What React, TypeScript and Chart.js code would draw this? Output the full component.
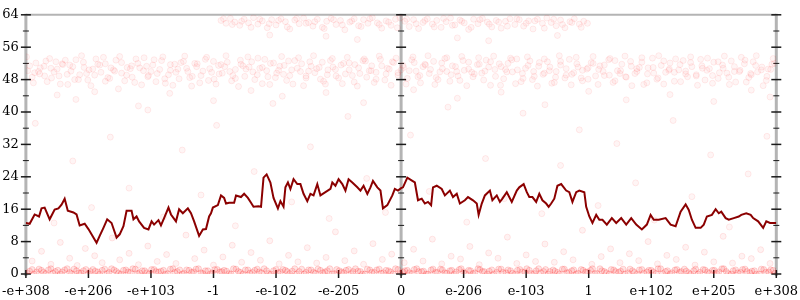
import React, { useEffect, useRef } from 'react';
import { Chart, registerables } from 'chart.js';

Chart.register(...registerables);

const xTickLabels = ['-e+308', '-e+206', '-e+103', '-1', '-e-102', '-e-205', '0', 'e-206', 'e-103', '1', 'e+102', 'e+205', 'e+308'];
const yMajorStep = 8;
const yMinorStep = 4;

const linePoints: number[][] = [
  [-6.00,12.6],[-5.94,12.4],[-5.86,14.7],[-5.79,14.2],[-5.75,16.2],[-5.70,16.4],[-5.62,13.5],[-5.54,15.9],[-5.48,16.2],[-5.43,17.1],
  [-5.38,18.6],[-5.33,15.6],[-5.24,15.2],[-5.19,14.7],[-5.14,12.0],[-5.06,12.4],[-5.00,11.1],[-4.92,9.0],[-4.87,7.7],[-4.82,9.4],
  [-4.76,11.4],[-4.70,13.5],[-4.63,12.6],[-4.55,9.0],[-4.50,9.8],[-4.44,11.8],[-4.39,15.6],[-4.31,15.6],[-4.28,13.5],[-4.23,14.2],
  [-4.19,13.0],[-4.11,11.4],[-4.04,11.0],[-3.99,13.0],[-3.95,12.2],[-3.88,13.3],[-3.84,12.0],[-3.79,13.8],[-3.72,16.4],[-3.68,14.7],
  [-3.60,13.0],[-3.55,16.0],[-3.49,15.0],[-3.41,16.2],[-3.36,15.0],[-3.31,13.0],[-3.23,9.4],[-3.17,11.0],[-3.12,11.1],[-3.07,14.2],
  [-3.04,15.0],[-3.01,16.4],[-2.93,17.0],[-2.88,19.4],[-2.83,18.8],[-2.80,17.4],[-2.75,17.6],[-2.67,17.6],[-2.64,19.4],[-2.56,19.0],
  [-2.51,19.8],[-2.45,18.8],[-2.40,17.6],[-2.36,16.6],[-2.28,16.7],[-2.24,16.6],[-2.20,23.8],[-2.15,24.6],[-2.09,22.6],[-2.04,18.8],
  [-1.97,16.2],[-1.93,18.0],[-1.88,16.6],[-1.85,21.4],[-1.81,22.6],[-1.77,21.0],[-1.72,23.4],[-1.66,22.2],[-1.61,22.2],[-1.56,19.8],
  [-1.50,18.0],[-1.45,19.8],[-1.40,19.4],[-1.34,22.2],[-1.29,19.4],[-1.21,20.2],[-1.13,21.0],[-1.10,22.6],[-1.05,21.8],[-1.00,23.4],
  [-0.94,22.2],[-0.89,20.6],[-0.84,23.4],[-0.78,22.6],[-0.70,21.4],[-0.65,20.6],[-0.60,21.8],[-0.54,19.8],[-0.49,21.4],[-0.45,23.0],
  [-0.38,21.4],[-0.33,20.6],[-0.29,16.2],[-0.22,17.0],[-0.14,19.4],[-0.10,21.0],[-0.05,20.6],[0.00,21.2],[0.03,21.4],[0.10,23.8],
  [0.18,23.0],[0.22,22.6],[0.27,18.2],[0.33,18.6],[0.38,17.4],[0.43,17.8],[0.48,17.0],[0.51,21.4],[0.57,21.8],[0.65,21.0],
  [0.70,19.4],[0.78,20.6],[0.83,19.0],[0.89,19.8],[0.94,17.4],[1.02,18.2],[1.07,19.0],[1.15,18.2],[1.21,17.4],[1.24,14.6],
  [1.29,17.4],[1.34,19.4],[1.42,20.6],[1.46,18.2],[1.53,19.4],[1.58,17.8],[1.62,18.6],[1.69,20.2],[1.77,17.8],[1.85,20.6],
  [1.89,21.4],[1.96,22.2],[2.01,20.2],[2.05,19.0],[2.10,19.0],[2.16,17.8],[2.21,19.8],[2.26,18.2],[2.32,17.4],[2.36,16.6],
  [2.40,17.4],[2.45,18.6],[2.50,21.8],[2.56,22.2],[2.64,20.6],[2.69,20.2],[2.74,17.8],[2.80,20.2],[2.85,20.6],[2.93,20.2],
  [2.96,16.6],[3.01,14.2],[3.06,12.6],[3.12,14.6],[3.17,13.4],[3.22,13.4],[3.29,12.2],[3.37,13.8],[3.44,12.6],[3.52,13.8],
  [3.60,12.2],[3.68,13.8],[3.76,12.2],[3.85,11.0],[3.93,12.2],[3.99,14.6],[4.04,13.4],[4.12,13.4],[4.23,13.8],[4.31,12.2],
  [4.39,11.8],[4.47,15.4],[4.55,17.2],[4.60,15.8],[4.65,13.4],[4.71,11.4],[4.79,11.4],[4.84,12.2],[4.89,14.2],[4.97,14.6],
  [5.03,16.0],[5.08,15.0],[5.12,15.4],[5.19,13.8],[5.24,13.4],[5.32,13.8],[5.40,14.2],[5.44,14.6],[5.52,15.0],[5.59,14.6],
  [5.63,13.8],[5.71,13.0],[5.79,11.4],[5.84,13.0],[5.90,12.6],[6.00,12.6]
];

const band50Points: number[][] = [
  [-5.97,50.2],[-5.9,48.6],[-5.84,52.1],[-5.78,49.4],[-5.71,51.3],[-5.66,47.5],[-5.6,50.8],[-5.52,52.4],[-5.47,48.9],[-5.41,51.7],
  [-5.33,46.8],[-5.28,50.1],[-5.2,52.9],[-5.14,49.2],[-5.07,51.0],[-5.01,47.9],[-4.93,50.6],[-4.88,53.1],[-4.8,49.8],[-4.73,51.9],
  [-4.66,48.3],[-4.6,50.4],[-4.52,45.7],[-4.47,52.2],[-4.39,49.1],[-4.31,51.4],[-4.26,47.3],[-4.18,50.9],[-4.11,53.4],[-4.05,48.7],
  [-3.97,51.6],[-3.9,49.5],[-3.83,52.7],[-3.77,47.1],[-3.69,50.3],[-3.62,51.8],[-3.55,48.2],[-3.48,52.5],[-3.41,50.0],[-3.35,46.4],
  [-3.27,51.2],[-3.2,49.0],[-3.13,53.0],[-3.06,50.7],[-2.99,48.1],[-2.92,51.5],[-2.86,49.6],[-2.78,52.3],[-2.71,47.7],[-2.65,50.5],
  [-2.57,52.8],[-2.5,48.8],[-2.43,51.1],[-2.37,49.9],[-2.29,53.3],[-2.22,47.0],[-2.15,50.2],[-2.09,52.0],[-2.01,48.5],[-1.94,51.3],
  [-1.88,49.3],[-1.8,52.6],[-1.73,46.9],[-1.66,50.8],[-1.59,51.9],[-1.52,48.4],[-1.46,52.4],[-1.38,49.7],[-1.31,51.0],[-1.24,47.6],
  [-1.17,50.4],[-1.1,53.2],[-1.04,48.9],[-0.96,51.6],[-0.89,49.4],[-0.83,52.1],[-0.75,47.4],[-0.68,50.9],[-0.61,52.7],[-0.55,48.6],
  [-0.47,51.4],[-0.4,49.8],[-0.33,53.0],[-0.26,47.9],[-0.19,50.6],[-0.12,52.2],[-0.05,49.1],[0.03,51.5],[0.1,48.3],[0.17,52.9],
  [0.24,50.1],[0.31,47.2],[0.38,51.8],[0.45,49.5],[0.52,52.5],[0.59,48.0],[0.66,50.7],[0.73,53.4],[0.8,49.2],[0.87,51.2],
  [0.94,47.8],[1.01,50.3],[1.08,52.3],[1.15,48.7],[1.22,51.7],[1.29,49.6],[1.36,52.8],[1.43,46.6],[1.5,50.5],[1.57,51.9],
  [1.64,48.2],[1.71,52.0],[1.78,49.9],[1.85,53.1],[1.92,47.5],[1.99,50.8],[2.06,52.6],[2.13,48.8],[2.2,51.3],[2.27,49.3],
  [2.34,52.4],[2.41,47.1],[2.48,50.0],[2.55,51.6],[2.62,48.4],[2.69,53.0],[2.76,49.7],[2.83,51.1],[2.9,47.7],[2.97,50.6],
  [3.04,52.2],[3.11,48.9],[3.18,51.4],[3.25,49.0],[3.32,52.9],[3.39,47.3],[3.46,50.2],[3.53,51.8],[3.6,48.6],[3.67,52.5],
  [3.74,49.5],[3.81,51.0],[3.88,46.8],[3.95,50.9],[4.02,53.3],[4.09,48.1],[4.16,51.5],[4.23,49.8],[4.3,52.1],[4.37,47.6],
  [4.44,50.4],[4.51,52.7],[4.58,48.7],[4.65,51.2],[4.72,49.2],[4.79,53.0],[4.86,47.9],[4.93,50.7],[5.0,52.3],[5.07,48.3],
  [5.14,51.6],[5.21,49.6],[5.28,52.6],[5.35,47.4],[5.42,50.3],[5.49,51.9],[5.56,48.5],[5.63,52.4],[5.7,49.9],[5.77,51.1],
  [5.84,47.8],[5.91,50.5],[5.97,52.0],
  [-5.5,44.2],[-5.2,43.1],[-4.9,45.0],[-4.2,41.5],[-3.7,44.6],[-3.0,42.8],[-2.4,45.3],[-1.9,43.9],[-1.2,44.8],[-0.6,42.3],
  [0.2,45.5],[0.9,43.4],[1.6,44.9],[2.3,41.8],[3.0,45.1],[3.6,43.0],[4.3,44.3],[5.0,42.6],[5.6,45.4],[5.9,43.7]
];

const band50PointsB: number[][] = [
  [-5.94,51.4],[-5.86,49.7],[-5.77,50.9],[-5.68,52.6],[-5.59,48.4],[-5.5,50.6],[-5.42,51.9],[-5.34,49.3],[-5.25,51.2],[-5.16,48.0],
  [-5.08,52.3],[-4.99,50.4],[-4.9,49.1],[-4.82,51.6],[-4.73,47.6],[-4.64,50.9],[-4.56,52.8],[-4.47,49.6],[-4.38,51.0],[-4.3,48.6],
  [-4.21,52.0],[-4.12,50.2],[-4.04,49.0],[-3.95,52.9],[-3.86,50.5],[-3.78,48.2],[-3.69,51.7],[-3.6,49.8],[-3.52,52.2],[-3.43,50.8],
  [-3.34,48.8],[-3.26,51.9],[-3.17,50.1],[-3.08,47.8],[-3.0,52.5],[-2.91,49.4],[-2.82,51.2],[-2.74,50.0],[-2.65,48.3],[-2.56,51.8],
  [-2.48,50.6],[-2.39,52.4],[-2.3,49.2],[-2.22,51.0],[-2.13,48.7],[-2.04,52.1],[-1.96,50.3],[-1.87,51.5],[-1.78,49.0],[-1.7,52.7],
  [-1.61,50.0],[-1.52,48.9],[-1.44,51.3],[-1.35,50.7],[-1.26,52.3],[-1.18,49.2],[-1.09,51.1],[-1.0,48.4],[-0.92,52.0],[-0.83,50.4],
  [-0.74,51.7],[-0.66,49.5],[-0.57,52.6],[-0.48,50.2],[-0.4,48.1],[-0.31,51.4],[-0.22,50.8],[-0.14,52.4],[-0.05,49.7],[0.04,51.0],
  [0.13,50.2],[0.21,52.2],[0.3,49.0],[0.39,51.6],[0.47,50.5],[0.56,48.5],[0.65,52.1],[0.73,50.0],[0.82,51.4],[0.91,48.9],
  [0.99,52.7],[1.08,50.6],[1.17,49.4],[1.25,51.8],[1.34,50.1],[1.43,52.4],[1.51,48.8],[1.6,51.2],[1.69,49.9],[1.77,52.9],
  [1.86,50.4],[1.95,48.3],[2.03,51.5],[2.12,50.0],[2.21,52.2],[2.29,49.6],[2.38,51.1],[2.47,48.6],[2.55,52.5],[2.64,50.7],
  [2.73,49.3],[2.81,51.9],[2.9,50.3],[2.99,48.1],[3.07,52.0],[3.16,50.5],[3.25,51.6],[3.33,49.1],[3.42,52.7],[3.51,50.2],
  [3.59,48.7],[3.68,51.3],[3.77,50.0],[3.85,52.3],[3.94,49.4],[4.03,51.0],[4.11,48.4],[4.2,52.6],[4.29,50.6],[4.37,49.8],
  [4.46,51.7],[4.55,50.1],[4.63,52.2],[4.72,48.9],[4.81,51.4],[4.89,50.3],[4.98,49.0],[5.07,52.4],[5.15,50.8],[5.24,48.6],
  [5.33,51.2],[5.41,50.0],[5.5,52.8],[5.59,49.5],[5.67,51.5],[5.76,50.4],[5.85,48.8],[5.93,51.8]
];

const band50PointsC: number[][] = [
  [-5.99,53.6],[-5.88,47.2],[-5.8,50.0],[-5.7,48.9],[-5.62,53.2],[-5.55,49.9],[-5.45,46.9],[-5.37,52.8],[-5.3,51.6],[-5.22,48.0],
  [-5.11,53.9],[-5.03,49.5],[-4.96,46.5],[-4.85,51.8],[-4.76,53.5],[-4.69,48.5],[-4.58,50.1],[-4.5,53.7],[-4.42,47.7],[-4.33,50.7],
  [-4.24,53.1],[-4.15,46.7],[-4.07,51.3],[-4.0,50.0],[-3.92,47.5],[-3.81,53.6],[-3.72,49.2],[-3.65,46.6],[-3.57,50.6],[-3.46,53.8],
  [-3.38,48.5],[-3.3,52.0],[-3.22,47.2],[-3.11,53.5],[-3.03,49.8],[-2.96,46.9],[-2.88,51.7],[-2.8,53.9],[-2.69,49.0],[-2.6,46.3],
  [-2.53,51.4],[-2.45,53.6],[-2.34,48.0],[-2.26,50.8],[-2.18,53.0],[-2.1,46.8],[-1.99,49.6],[-1.91,53.7],[-1.83,47.8],[-1.75,50.4],
  [-1.64,53.4],[-1.56,46.5],[-1.48,50.1],[-1.4,53.9],[-1.29,48.1],[-1.21,46.9],[-1.13,52.7],[-1.05,50.5],[-0.94,47.0],[-0.86,53.5],
  [-0.78,49.0],[-0.7,46.4],[-0.59,53.1],[-0.51,50.2],[-0.43,47.3],[-0.35,53.8],[-0.24,49.4],[-0.16,46.6],[-0.08,53.3],[0.0,50.4],
  [0.08,46.9],[0.19,53.6],[0.27,48.7],[0.35,51.2],[0.43,53.9],[0.54,46.8],[0.62,49.9],[0.7,53.2],[0.78,47.6],[0.89,50.0],
  [0.97,53.7],[1.05,46.5],[1.13,49.8],[1.24,53.4],[1.32,47.9],[1.4,51.1],[1.48,53.8],[1.59,46.6],[1.67,50.5],[1.75,53.3],
  [1.83,47.0],[1.94,49.5],[2.02,53.6],[2.1,48.0],[2.18,46.4],[2.29,53.1],[2.37,50.2],[2.45,47.3],[2.53,53.9],[2.64,49.1],
  [2.72,46.7],[2.8,53.5],[2.88,48.4],[2.99,50.9],[3.07,53.7],[3.15,46.8],[3.23,50.0],[3.34,53.2],[3.42,47.7],[3.5,49.5],
  [3.58,53.8],[3.69,46.5],[3.77,50.7],[3.85,53.4],[3.93,47.2],[4.04,49.6],[4.12,53.9],[4.2,46.9],[4.28,50.3],[4.39,53.1],
  [4.47,47.5],[4.55,49.4],[4.63,53.6],[4.74,46.6],[4.82,50.8],[4.9,53.3],[4.98,47.1],[5.09,49.7],[5.17,53.8],[5.25,46.8],
  [5.33,50.0],[5.44,53.5],[5.52,47.4],[5.6,49.2],[5.68,53.9],[5.79,46.5],[5.87,50.6],[5.95,53.2]
];

const band62Points: number[][] = [
  [-2.88,62.6],[-2.8,61.9],[-2.73,63.1],[-2.66,62.2],[-2.58,61.4],[-2.51,62.9],[-2.44,62.0],[-2.36,63.3],[-2.29,61.7],[-2.22,62.5],
  [-2.14,60.8],[-2.07,62.8],[-2.0,61.5],[-1.92,63.0],[-1.85,62.3],[-1.78,60.5],[-1.7,62.7],[-1.63,61.8],[-1.56,63.2],[-1.48,62.1],
  [-1.41,61.2],[-1.34,62.9],[-1.26,60.9],[-1.19,62.4],[-1.12,63.1],[-1.04,61.6],[-0.97,62.6],[-0.9,60.3],[-0.82,62.2],[-0.75,63.0],
  [-0.68,61.3],[-0.6,62.8],[-0.53,61.9],[-0.46,63.3],[-0.38,62.0],[-0.31,60.7],[-0.24,62.5],[-0.16,61.4],[-0.09,62.9],[-0.02,63.2],
  [0.06,62.4],[0.13,61.1],[0.2,62.8],[0.28,60.6],[0.35,62.1],[0.42,63.0],[0.5,61.7],[0.57,62.6],[0.64,60.9],[0.72,62.3],
  [0.79,63.2],[0.86,61.5],[0.94,62.7],[1.01,62.0],[1.08,60.4],[1.16,62.9],[1.23,61.8],[1.3,63.1],[1.38,62.2],[1.45,61.0],
  [1.52,62.6],[1.6,60.7],[1.67,62.4],[1.74,63.0],[1.82,61.6],[1.89,62.8],[1.96,61.2],[2.04,62.5],[2.11,60.5],[2.18,62.9],
  [2.26,61.9],[2.33,63.2],[2.4,62.1],[2.48,61.3],[2.55,62.7],[2.62,60.8],[2.7,62.3],[2.77,63.0],[2.85,61.7],[2.92,62.4],[2.98,61.9],
  [-2.84,63.0],[-2.7,61.6],[-2.55,62.4],[-2.4,60.9],[-2.26,62.9],[-2.11,61.8],[-1.96,62.6],[-1.82,61.0],[-1.67,63.1],[-1.52,61.9],
  [-1.38,62.3],[-1.23,60.6],[-1.08,62.8],[-0.94,61.5],[-0.79,62.5],[-0.64,61.1],[-0.5,63.0],[-0.35,61.6],[-0.2,62.2],[-0.06,60.8],
  [0.09,62.9],[0.24,61.8],[0.38,62.6],[0.53,61.0],[0.68,63.1],[0.82,61.4],[0.97,62.4],[1.12,60.9],[1.26,62.8],[1.41,61.7],
  [1.56,62.2],[1.7,61.2],[1.85,63.0],[2.0,61.9],[2.14,62.5],[2.29,60.7],[2.44,62.9],[2.58,61.6],[2.73,62.1],[2.88,60.9],
  [-2.1,59.0],[-1.2,58.7],[-0.7,57.9],[0.9,58.3],[1.4,57.6],[2.5,58.9]
];

const midPoints: number[][] = [
  [-5.85,37.2],[-5.55,12.6],[-5.25,27.9],[-4.95,16.4],[-4.65,33.8],[-4.35,21.2],[-4.05,40.5],[-3.8,14.1],[-3.5,30.6],[-3.2,19.5],
  [-2.95,36.7],[-2.65,11.9],[-2.35,25.3],[-2.05,42.1],[-1.75,17.8],[-1.45,31.4],[-1.15,13.7],[-0.85,38.9],[-0.55,23.6],[-0.25,15.2],
  [0.15,34.3],[0.45,20.4],[0.75,41.2],[1.05,12.8],[1.35,28.5],[1.65,18.6],[1.95,39.7],[2.25,14.9],[2.55,26.8],[2.85,35.6],
  [3.15,16.9],[3.45,32.2],[3.75,22.5],[4.05,13.3],[4.35,37.9],[4.65,19.1],[4.95,29.4],[5.25,11.6],[5.55,24.7],[5.85,34.0]
];

const lowPoints: number[][] = [
  [-5.9,3.2],[-5.75,5.6],[-5.6,2.4],[-5.45,7.8],[-5.3,3.9],[-5.18,2.1],[-5.05,6.3],[-4.9,4.5],[-4.78,2.8],[-4.62,8.9],
  [-4.5,3.5],[-4.35,5.1],[-4.2,2.3],[-4.05,6.9],[-3.9,3.1],[-3.75,4.8],[-3.6,2.6],[-3.44,9.6],[-3.3,3.8],[-3.15,5.9],
  [-3.0,2.2],[-2.85,4.2],[-2.7,7.1],[-2.55,2.9],[-2.4,5.3],[-2.25,3.4],[-2.1,8.2],[-1.95,2.5],[-1.8,4.6],[-1.65,3.0],
  [-1.5,6.5],[-1.35,2.7],[-1.2,4.1],[-1.05,10.4],[-0.9,3.3],[-0.75,5.7],[-0.6,2.4],[-0.45,7.5],[-0.3,3.6],[-0.15,4.9],
  [0.05,2.8],[0.2,6.1],[0.35,3.2],[0.5,8.6],[0.65,2.5],[0.8,4.4],[0.95,3.7],[1.1,6.8],[1.25,2.3],[1.4,5.2],
  [1.55,3.9],[1.7,9.1],[1.85,2.6],[2.0,4.7],[2.15,3.1],[2.3,7.4],[2.45,2.9],[2.6,5.5],[2.75,3.5],[2.9,10.8],
  [3.05,2.4],[3.2,4.3],[3.35,6.2],[3.5,2.8],[3.65,5.0],[3.8,3.3],[3.95,8.0],[4.1,2.5],[4.25,4.6],[4.4,3.6],
  [4.55,6.6],[4.7,2.2],[4.85,5.4],[5.0,3.0],[5.15,9.3],[5.3,2.7],[5.45,4.4],[5.6,3.8],[5.75,6.0],[5.9,2.6]
];

const bottomPoints: number[][] = [
  [-5.98,0.2],[-5.9,1.1],[-5.83,0.5],[-5.75,0.9],[-5.68,0.1],[-5.6,1.3],[-5.53,0.6],[-5.45,0.0],[-5.38,1.0],[-5.3,0.4],
  [-5.23,1.2],[-5.15,0.3],[-5.08,0.8],[-5.0,0.0],[-4.93,1.1],[-4.85,0.5],[-4.78,0.9],[-4.7,0.1],[-4.63,1.3],[-4.55,0.6],
  [-4.48,0.0],[-4.4,1.0],[-4.33,0.4],[-4.25,1.2],[-4.18,0.3],[-4.1,0.8],[-4.03,0.0],[-3.95,1.1],[-3.88,0.5],[-3.8,0.9],
  [-3.73,0.1],[-3.65,1.3],[-3.58,0.6],[-3.5,0.0],[-3.43,1.0],[-3.35,0.4],[-3.28,1.2],[-3.2,0.3],[-3.13,0.8],[-3.05,0.0],
  [-2.98,1.1],[-2.9,0.5],[-2.83,0.9],[-2.75,0.1],[-2.68,1.3],[-2.6,0.6],[-2.53,0.0],[-2.45,1.0],[-2.38,0.4],[-2.3,1.2],
  [-2.23,0.3],[-2.15,0.8],[-2.08,0.0],[-2.0,1.1],[-1.93,0.5],[-1.85,0.9],[-1.78,0.1],[-1.7,1.3],[-1.63,0.6],[-1.55,0.0],
  [-1.48,1.0],[-1.4,0.4],[-1.33,1.2],[-1.25,0.3],[-1.18,0.8],[-1.1,0.0],[-1.03,1.1],[-0.95,0.5],[-0.88,0.9],[-0.8,0.1],
  [-0.73,1.3],[-0.65,0.6],[-0.58,0.0],[-0.5,1.0],[-0.43,0.4],[-0.35,1.2],[-0.28,0.3],[-0.2,0.8],[-0.13,0.0],[-0.05,1.1],
  [0.03,0.5],[0.1,0.9],[0.18,0.1],[0.25,1.3],[0.33,0.6],[0.4,0.0],[0.48,1.0],[0.55,0.4],[0.63,1.2],[0.7,0.3],
  [0.78,0.8],[0.85,0.0],[0.93,1.1],[1.0,0.5],[1.08,0.9],[1.15,0.1],[1.23,1.3],[1.3,0.6],[1.38,0.0],[1.45,1.0],
  [1.53,0.4],[1.6,1.2],[1.68,0.3],[1.75,0.8],[1.83,0.0],[1.9,1.1],[1.98,0.5],[2.05,0.9],[2.13,0.1],[2.2,1.3],
  [2.28,0.6],[2.35,0.0],[2.43,1.0],[2.5,0.4],[2.58,1.2],[2.65,0.3],[2.73,0.8],[2.8,0.0],[2.88,1.1],[2.95,0.5],
  [3.03,0.9],[3.1,0.1],[3.18,1.3],[3.25,0.6],[3.33,0.0],[3.4,1.0],[3.48,0.4],[3.55,1.2],[3.63,0.3],[3.7,0.8],
  [3.78,0.0],[3.85,1.1],[3.93,0.5],[4.0,0.9],[4.08,0.1],[4.15,1.3],[4.23,0.6],[4.3,0.0],[4.38,1.0],[4.45,0.4],
  [4.53,1.2],[4.6,0.3],[4.68,0.8],[4.75,0.0],[4.83,1.1],[4.9,0.5],[4.98,0.9],[5.05,0.1],[5.13,1.3],[5.2,0.6],
  [5.28,0.0],[5.35,1.0],[5.43,0.4],[5.5,1.2],[5.58,0.3],[5.65,0.8],[5.73,0.0],[5.8,1.1],[5.88,0.5],[5.95,0.9]
];

const bottomPointsB: number[][] = [
  [-5.94,0.7],[-5.87,0.0],[-5.79,1.2],[-5.72,0.4],[-5.64,1.0],[-5.57,0.2],[-5.49,0.9],[-5.42,0.5],[-5.34,1.3],[-5.27,0.1],
  [-5.19,0.8],[-5.12,0.3],[-5.04,1.1],[-4.97,0.6],[-4.89,0.7],[-4.82,0.0],[-4.74,1.2],[-4.67,0.4],[-4.59,1.0],[-4.52,0.2],
  [-4.44,0.9],[-4.37,0.5],[-4.29,1.3],[-4.22,0.1],[-4.14,0.8],[-4.07,0.3],[-3.99,1.1],[-3.92,0.6],[-3.84,0.7],[-3.77,0.0],
  [-3.69,1.2],[-3.62,0.4],[-3.54,1.0],[-3.47,0.2],[-3.39,0.9],[-3.32,0.5],[-3.24,1.3],[-3.17,0.1],[-3.09,0.8],[-3.02,0.3],
  [-2.94,1.1],[-2.87,0.6],[-2.79,0.7],[-2.72,0.0],[-2.64,1.2],[-2.57,0.4],[-2.49,1.0],[-2.42,0.2],[-2.34,0.9],[-2.27,0.5],
  [-2.19,1.3],[-2.12,0.1],[-2.04,0.8],[-1.97,0.3],[-1.89,1.1],[-1.82,0.6],[-1.74,0.7],[-1.67,0.0],[-1.59,1.2],[-1.52,0.4],
  [-1.44,1.0],[-1.37,0.2],[-1.29,0.9],[-1.22,0.5],[-1.14,1.3],[-1.07,0.1],[-0.99,0.8],[-0.92,0.3],[-0.84,1.1],[-0.77,0.6],
  [-0.69,0.7],[-0.62,0.0],[-0.54,1.2],[-0.47,0.4],[-0.39,1.0],[-0.32,0.2],[-0.24,0.9],[-0.17,0.5],[-0.09,1.3],[-0.02,0.1],
  [0.06,0.8],[0.13,0.3],[0.21,1.1],[0.28,0.6],[0.36,0.7],[0.43,0.0],[0.51,1.2],[0.58,0.4],[0.66,1.0],[0.73,0.2],
  [0.81,0.9],[0.88,0.5],[0.96,1.3],[1.03,0.1],[1.11,0.8],[1.18,0.3],[1.26,1.1],[1.33,0.6],[1.41,0.7],[1.48,0.0],
  [1.56,1.2],[1.63,0.4],[1.71,1.0],[1.78,0.2],[1.86,0.9],[1.93,0.5],[2.01,1.3],[2.08,0.1],[2.16,0.8],[2.23,0.3],
  [2.31,1.1],[2.38,0.6],[2.46,0.7],[2.53,0.0],[2.61,1.2],[2.68,0.4],[2.76,1.0],[2.83,0.2],[2.91,0.9],[2.98,0.5],
  [3.06,1.3],[3.13,0.1],[3.21,0.8],[3.28,0.3],[3.36,1.1],[3.43,0.6],[3.51,0.7],[3.58,0.0],[3.66,1.2],[3.73,0.4],
  [3.81,1.0],[3.88,0.2],[3.96,0.9],[4.03,0.5],[4.11,1.3],[4.18,0.1],[4.26,0.8],[4.33,0.3],[4.41,1.1],[4.48,0.6],
  [4.56,0.7],[4.63,0.0],[4.71,1.2],[4.78,0.4],[4.86,1.0],[4.93,0.2],[5.01,0.9],[5.08,0.5],[5.16,1.3],[5.23,0.1],
  [5.31,0.8],[5.38,0.3],[5.46,1.1],[5.53,0.6],[5.61,0.7],[5.68,0.0],[5.76,1.2],[5.83,0.4],[5.91,1.0],[5.98,0.2]
];

const toXY = (arr: number[][]) => arr.map(([x, y]) => ({ x, y }));

const frameTicksPlugin = {
  id: 'frameTicks',
  beforeDatasetsDraw(chart: any) {
    const { ctx, chartArea: a, scales } = chart;
    const xs = scales.x;
    const ys = scales.y;
    const seg = (x1: number, y1: number, x2: number, y2: number) => {
      ctx.beginPath();
      ctx.moveTo(x1, y1);
      ctx.lineTo(x2, y2);
      ctx.stroke();
    };
    ctx.save();
    ctx.strokeStyle = '#b4b4b4';
    ctx.lineWidth = 2;
    seg(a.left, a.top, a.right, a.top);
    ctx.lineWidth = 3;
    const axesX = [xs.min, 0, xs.max].map((v: number) => xs.getPixelForValue(v));
    axesX.forEach((px: number) => seg(px, a.top - 1, px, a.bottom + 2));
    ctx.strokeStyle = '#1a1a1a';
    for (let v = ys.min; v <= ys.max; v += yMinorStep) {
      const py = ys.getPixelForValue(v);
      const major = v % yMajorStep === 0;
      const half = major ? 5 : 3;
      ctx.lineWidth = major ? 1.5 : 1;
      axesX.forEach((px: number) => seg(px - half, py, px + half, py));
    }
    ctx.lineWidth = 1.5;
    xTickLabels.forEach((_, i) => {
      const px = xs.getPixelForValue(i - 6);
      seg(px, a.bottom - 4, px, a.bottom + 4);
    });
    ctx.restore();
  },
};

export default function App() {
  const ref = useRef<HTMLCanvasElement>(null);
  useEffect(() => {
    document.body.style.margin = '0';
    const canvas = ref.current;
    if (!canvas) return;
    const scatterStyle = (fill: string, stroke: string) => ({
      type: 'scatter' as const,
      pointRadius: 3,
      pointHoverRadius: 3,
      pointBackgroundColor: fill,
      pointBorderColor: stroke,
      pointBorderWidth: 1,
      showLine: false,
      clip: 0,
    });
    const bandFill = 'rgba(255,0,0,0.04)';
    const bandStroke = 'rgba(255,0,0,0.075)';
    const chart = new Chart(canvas, {
      type: 'scatter',
      data: {
        datasets: [
          {
            type: 'line',
            data: toXY(linePoints),
            borderColor: '#8b0000',
            borderWidth: 2,
            pointRadius: 0,
            tension: 0,
            fill: false,
          } as any,
          { ...scatterStyle(bandFill, bandStroke), data: toXY(band62Points) },
          { ...scatterStyle(bandFill, bandStroke), data: toXY(band50Points) },
          { ...scatterStyle(bandFill, bandStroke), data: toXY(band50PointsB) },
          { ...scatterStyle(bandFill, bandStroke), data: toXY(band50PointsC) },
          { ...scatterStyle('rgba(255,0,0,0.04)', 'rgba(255,0,0,0.08)'), data: toXY(midPoints) },
          { ...scatterStyle('rgba(255,0,0,0.05)', 'rgba(255,0,0,0.09)'), data: toXY(lowPoints) },
          { ...scatterStyle('rgba(255,0,0,0.10)', 'rgba(255,0,0,0.16)'), data: toXY(bottomPoints) },
          { ...scatterStyle('rgba(255,0,0,0.10)', 'rgba(255,0,0,0.16)'), data: toXY(bottomPointsB) },
        ],
      },
      options: {
        responsive: false,
        animation: false,
        devicePixelRatio: 1,
        layout: { padding: { top: 8, right: 22, left: 0, bottom: 0 } },
        plugins: { legend: { display: false }, tooltip: { enabled: false } },
        scales: {
          x: {
            type: 'linear',
            min: -6,
            max: 6,
            grid: { display: false },
            border: { display: false },
            afterBuildTicks: (scale: any) => {
              scale.ticks = xTickLabels.map((_, i) => ({ value: i - 6 }));
            },
            afterFit: (scale: any) => {
              scale.height = 26;
            },
            ticks: {
              autoSkip: false,
              maxRotation: 0,
              padding: 2,
              color: '#000',
              font: { family: 'DejaVu Serif', size: 13 },
              callback: (v: any) => xTickLabels[Math.round(Number(v)) + 6],
            },
          },
          y: {
            type: 'linear',
            min: 0,
            max: 64,
            grid: { display: false, drawTicks: false },
            border: { display: false },
            afterFit: (scale: any) => {
              scale.width = 24;
            },
            ticks: {
              stepSize: yMajorStep,
              padding: 7,
              color: '#000',
              font: { family: 'DejaVu Serif', size: 13 },
            },
          },
        },
      },
      plugins: [frameTicksPlugin],
    });
    return () => chart.destroy();
  }, []);
  return (
    <div style={{ width: 800, height: 300 }}>
      <canvas ref={ref} width={800} height={300} style={{ display: 'block', width: 800, height: 300 }} />
    </div>
  );
}
